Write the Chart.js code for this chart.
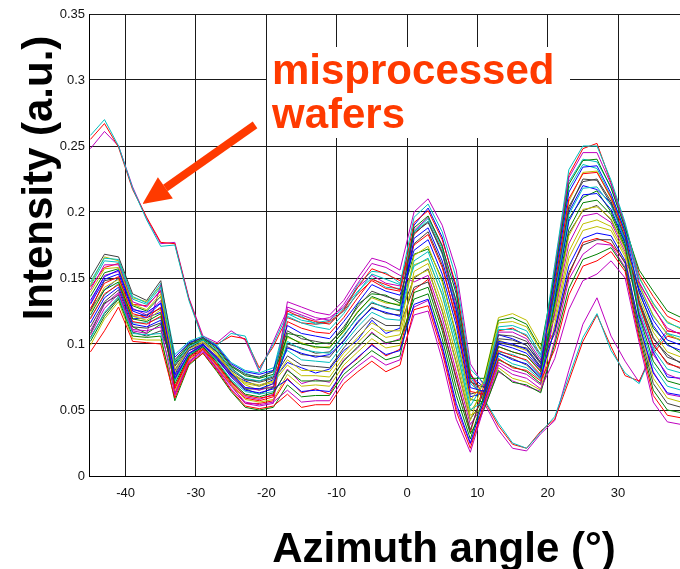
<!DOCTYPE html>
<html>
<head>
<meta charset="utf-8">
<script src="https://cdn.jsdelivr.net/npm/chart.js@4.4.0/dist/chart.umd.min.js"></script>
<style>
  html, body { margin: 0; padding: 0; background: #fff; }
  #wrap { width: 680px; height: 569px; }
</style>
</head>
<body>
<div id="wrap"><canvas id="myChart" width="680" height="569"></canvas></div>
<script>
/* global Chart */

// azimuth angles (deg) where every profile is sampled
const ANGLES = [-45, -43, -41, -39, -37, -35, -33, -31, -29, -27, -25, -23, -21, -19, -17, -15, -13, -11, -9, -7, -5, -3, -1,
                1, 3, 5, 7, 9, 11, 13, 15, 17, 19, 21, 23, 25, 27, 29, 31, 33, 35, 37, 39];
const X_TICKS = [-40, -30, -20, -10, 0, 10, 20, 30];
const Y_TICKS = [0, 0.05, 0.1, 0.15, 0.2, 0.25, 0.3, 0.35];

const X_TITLE = 'Azimuth angle (°)';
const Y_TITLE = 'Intensity (a.u.)';
const NOTE_LINES = ['misprocessed', 'wafers'];

// intensities in 1e-3 a.u.
const wafer01 = [133,151,156,126,124,131, 77,95,100,90,78,67,66,70, 97,93,90,92,102,117,127,124,121, 180,188,163,126,67, 64,102,100,96,82, 149,215,234,235,214,185, 139,114,99,95];
const wafer02 = [122,141,147,119,117,123, 70,91,98,86,72,62,60,63, 80,72,72,72,87,98,108,101,103, 134,138,104,61,28, 62,98,94,91,79, 130,187,207,209,198,174, 121,87,72,69];
const wafer03 = [94,110,128,102,101,100, 59,85,93,80,65,53,51,53, 62,52,54,54,70,79,87,79,84, 126,129,94,49,21, 56,89,82,80,72, 96,137,159,163,170,155, 104,61,46,44];
const wafer04 = [144,163,162,134,130,143, 85,98,103,95,81,74,72,76, 121,116,113,111,123,139,153,149,145, 196,206,185,150,81, 70,111,111,107,90, 160,232,250,250,224,192, 150,131,116,112];
const wafer05 = [110,130,139,111,110,113, 62,87,95,82,68,56,54,56, 65,56,57,57,74,83,91,84,88, 122,125,88,43,18, 53,84,77,74,66, 89,126,148,153,163,150, 101,56,41,39];
const wafer06 = [139,157,158,130,126,138, 81,96,102,93,79,71,69,72, 88,80,80,79,93,105,116,110,110, 167,174,147,108,57, 72,116,117,113,95, 126,182,202,204,195,172, 144,122,107,103];
const wafer07 = [150,168,166,138,133,148, 88,100,105,97,84,77,75,79, 110,104,102,100,113,128,140,136,133, 184,192,169,132,71, 67,107,106,102,86, 141,204,223,225,208,181, 133,105,90,86];
const wafer08 = [116,135,143,115,113,118, 74,93,99,89,75,65,63,66, 73,64,65,64,80,90,99,92,95, 130,134,99,55,25, 59,93,88,85,75, 111,159,180,184,182,163, 115,78,63,61];
const wafer09 = [136,154,157,129,125,136, 86,99,104,96,83,76,74,77, 106,100,98,97,110,124,136,132,129, 188,197,174,138,74, 74,118,120,115,96, 153,221,239,240,218,188, 156,140,125,120];
const wafer10 = [127,146,151,123,120,128, 66,89,96,84,70,59,57,60, 125,120,117,115,126,143,157,153,148, 175,183,158,120,64, 62,98,94,91,80, 145,210,229,230,211,183, 130,100,85,82];
const wafer11 = [104,124,136,108,107,108, 72,92,98,87,73,64,62,64, 102,96,94,93,107,120,132,127,126, 159,165,137,97,50, 57,91,85,82,73, 138,198,218,219,205,179, 127,96,81,78];
const wafer12 = [141,160,160,132,128,141, 75,93,100,90,76,67,65,68, 132,128,124,122,133,150,165,162,156, 200,210,190,156,85, 68,109,109,104,88, 156,226,245,245,221,190, 147,127,112,107];
const wafer13 = [124,143,149,121,118,126, 79,95,101,92,78,70,68,71, 84,76,76,75,90,101,112,105,107, 151,156,126,85,42, 75,120,123,118,99, 119,170,191,194,189,168, 136,109,94,90];
const wafer14 = [113,132,141,113,112,116, 83,97,103,94,80,73,71,74, 91,84,83,82,97,109,120,114,114, 143,147,115,73,35, 66,104,103,99,85, 108,154,175,179,179,161, 110,70,55,52];
const wafer15 = [130,149,153,125,121,131, 90,101,105,98,85,79,77,80, 114,108,106,104,117,131,145,140,137, 171,179,153,114,60, 63,100,97,93,81, 134,193,213,214,202,177, 142,118,103,99];
const wafer16 = [102,121,134,106,105,106, 57,84,93,79,64,52,50,52, 69,60,61,61,77,86,95,88,91, 139,143,110,67,32, 51,80,71,69,63, 100,142,164,168,173,157, 107,65,50,48];
const wafer17 = [119,138,145,117,115,121, 68,90,97,85,71,61,59,61, 117,112,109,108,120,135,149,145,141, 192,201,179,144,78, 60,95,91,88,77, 158,228,248,252,222,190, 153,136,121,116];
const wafer18 = [147,165,164,136,131,146, 92,102,106,99,86,80,78,82, 95,88,87,86,100,113,124,119,118, 163,170,142,102,53, 71,113,114,110,92, 152,218,236,233,212,186, 118,83,68,65];
const wafer19 = [107,127,138,110,108,145, 61,86,94,81,66,55,53,55, 128,124,120,118,130,146,161,158,152, 147,152,120,79,39, 55,86,80,77,69, 123,176,197,199,192,170, 124,92,77,73];
const wafer20 = [99,119,132,104,103,103, 64,88,96,83,69,58,56,58, 77,68,69,68,84,94,104,97,99, 155,161,131,91,46, 52,82,74,71,65, 115,165,186,189,186,166, 113,74,59,56];
const wafer21 = [125,148,150,121,122,127, 73,92,99,88,76,66,62,67, 100,97,93,94,106,121,131,128,125, 176,185,160,118,62, 65,101,99,97,83, 139,202,225,224,206,180, 131,104,92,85];
const wafer22 = [126,141,150,119,120,124, 80,97,101,94,77,72,68,73, 86,82,78,81,95,103,118,108,112, 190,203,181,141,76, 67,107,104,99,86, 136,200,220,217,207,178, 122,94,75,74];
const wafer23 = [108,131,137,113,108,115, 76,92,100,89,77,66,66,67, 108,106,100,101,111,130,138,137,131, 168,172,149,106,58, 56,88,83,79,70, 132,195,211,216,200,176, 140,112,100,93];
const wafer24 = [143,158,161,130,129,140, 63,86,96,81,69,55,55,57, 74,63,66,62,81,89,100,91,96, 141,149,113,75,33, 70,110,112,106,92, 110,152,177,180,176,162, 146,128,110,108];
const wafer25 = [120,137,146,116,116,120, 87,101,104,98,83,78,74,80, 123,121,115,116,125,145,155,154,146, 185,193,168,133,70, 61,94,92,87,76, 155,223,240,238,219,187, 145,121,108,102];
const wafer26 = [131,152,155,127,122,133, 67,90,98,84,72,60,58,62, 81,70,73,71,88,97,109,100,104, 128,133,97,52,24, 52,79,72,68,64, 103,149,168,176,175,158, 114,79,62,60];
const wafer27 = [145,166,163,135,132,144, 78,95,99,91,78,69,65,70, 105,101,97,98,109,125,135,131,130, 160,164,138,96,49, 64,103,99,95,82, 146,208,230,231,210,184, 151,130,117,111];
const wafer28 = [105,123,135,109,106,110, 84,99,103,94,82,73,72,75, 98,92,91,90,103,116,128,123,122, 150,157,125,86,43, 59,93,89,84,74, 125,184,201,205,194,173, 131,99,86,81];

// the three misprocessed wafers
const bad1 = [258,270,250,218,194,174, 175,133,103,99,108,106,80,100, 123,118,116,118,127,140,150,143,142, 185,195,172,125,75, 58,40,25,21,33, 45,75,105,123,95,78, 70,95,108,105];
const bad2 = [255,267,249,217,196,177, 176,134,104,100,106,104,82,98, 120,116,115,117,125,138,148,142,140, 183,193,170,122,73, 57,38,24,21,34, 43,72,102,122,98,76, 72,93,106,103];
const bad3 = [248,261,250,219,195,176, 177,135,106,101,110,103,79,102, 126,122,118,120,128,143,152,146,144, 186,196,175,128,78, 55,35,21,19,32, 42,80,115,135,106,87, 71,97,110,108];

const WAFERS = [wafer01, wafer02, wafer03, wafer04, wafer05, wafer06, wafer07, wafer08, wafer09, wafer10, wafer11, wafer12, wafer13, wafer14,
                wafer15, wafer16, wafer17, wafer18, wafer19, wafer20, wafer21, wafer22, wafer23, wafer24, wafer25, wafer26, wafer27, wafer28];
const BAD = [bad1, bad2, bad3];

// old matlab color order
const COLORS = ['#0000ff', '#008000', '#ff0000', '#00bfbf', '#bf00bf', '#bfbf00', '#404040'];
const BAD_COLORS = ['#00bfbf', '#ff0000', '#bf00bf'];
const NOTE_COLOR = '#ff3a00';
const FONT = '"Liberation Sans", Arial, Helvetica, sans-serif';

const toPoints = vals => vals.map((v, i) => ({ x: ANGLES[i], y: v / 1000 }));

const datasets = [
    ...WAFERS.map((w, i) => ({ data: toPoints(w), borderColor: COLORS[i % COLORS.length] })),
    ...BAD.map((w, i) => ({ data: toPoints(w), borderColor: BAD_COLORS[i] })),
];

const overlay = {
    id: 'overlay',
    afterDraw(chart) {
        const { ctx, scales: { x, y } } = chart;
        ctx.save();

        // note box (hides the grid behind the text)
        ctx.fillStyle = '#fff';
        ctx.fillRect(267, 47, 303, 91);
        ctx.fillStyle = NOTE_COLOR;
        ctx.font = 'bold 42px ' + FONT;
        ctx.textAlign = 'left';
        ctx.textBaseline = 'alphabetic';
        ctx.fillText(NOTE_LINES[0], 272, 84);
        ctx.fillText(NOTE_LINES[1], 272, 128);

        // arrow pointing at the odd profiles
        const x0 = x.getPixelForValue(-21.6), y0 = y.getPixelForValue(0.266);
        const x1 = x.getPixelForValue(-37.6), y1 = y.getPixelForValue(0.206);
        const ang = Math.atan2(y1 - y0, x1 - x0);
        const headLen = 28, headW = 13;
        const bx = x1 - headLen * Math.cos(ang), by = y1 - headLen * Math.sin(ang);
        ctx.strokeStyle = NOTE_COLOR;
        ctx.lineWidth = 8;
        ctx.beginPath();
        ctx.moveTo(x0, y0);
        ctx.lineTo(bx, by);
        ctx.stroke();
        ctx.beginPath();
        ctx.moveTo(x1, y1);
        ctx.lineTo(bx + headW * Math.sin(ang), by - headW * Math.cos(ang));
        ctx.lineTo(bx - headW * Math.sin(ang), by + headW * Math.cos(ang));
        ctx.closePath();
        ctx.fill();

        // axis titles
        ctx.fillStyle = '#000';
        ctx.textAlign = 'center';
        ctx.fillText(X_TITLE, 444, 562);
        ctx.translate(52, 178);
        ctx.rotate(-Math.PI / 2);
        ctx.fillText(Y_TITLE, 0, 0);
        ctx.restore();
    }
};

new Chart(document.getElementById('myChart'), {
    type: 'line',
    data: { datasets },
    options: {
        responsive: false,
        animation: false,
        devicePixelRatio: 1,
        layout: { padding: { top: 14, right: 0, left: 0, bottom: 0 } },
        elements: {
            point: { radius: 0 },
            line: { borderWidth: 1, tension: 0 }
        },
        plugins: {
            legend: { display: false },
            tooltip: { enabled: false }
        },
        scales: {
            x: {
                type: 'linear',
                min: -45.2,
                max: 38.8,
                afterBuildTicks: s => { s.ticks = X_TICKS.map(v => ({ value: v })); },
                afterFit: s => { s.height = 93; },
                grid: { color: '#1a1a1a', lineWidth: 1, drawTicks: false },
                border: { display: true, color: '#000', width: 1 },
                ticks: { color: '#111', padding: 10, font: { family: FONT, size: 13 } }
            },
            y: {
                min: 0,
                max: 0.35,
                afterBuildTicks: s => { s.ticks = Y_TICKS.map(v => ({ value: v })); },
                afterFit: s => { s.width = 89; },
                grid: { color: '#1a1a1a', lineWidth: 1, drawTicks: false },
                border: { display: true, color: '#000', width: 1 },
                ticks: {
                    color: '#111',
                    padding: 4,
                    font: { family: FONT, size: 13 },
                    callback: v => String(+v.toFixed(2))
                }
            }
        }
    },
    plugins: [overlay]
});
</script>
</body>
</html>
